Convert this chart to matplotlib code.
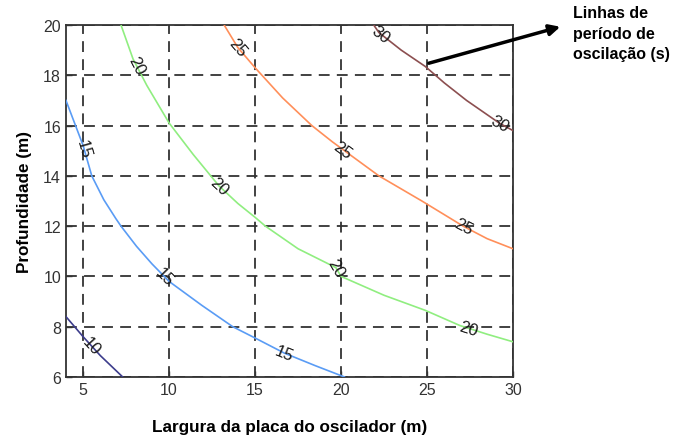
import numpy as np
import matplotlib.pyplot as plt

plt.rcParams['font.family'] = ['Liberation Sans', 'DejaVu Sans']

# contour lines: width (m) -> depth (m)
t10_x = [4.0, 5.0, 6.0, 7.3]
t10_y = [8.4, 7.6, 6.85, 6.0]

t15_x = [4.0, 4.5, 5.0, 5.5, 6.2, 6.9, 7.2, 8.1, 9.0, 10.0, 11.9, 13.7, 15.0, 16.7, 18.5, 20.2]
t15_y = [17.0, 16.1, 15.2, 14.0, 13.05, 12.3, 12.0, 11.2, 10.5, 9.8, 8.85, 8.0, 7.55, 6.95, 6.45, 6.0]

t20_x = [7.2, 7.9, 8.7, 10.0, 11.4, 12.9, 14.0, 15.0, 15.6, 17.5, 19.7, 20.0, 22.5, 24.9, 26.9, 28.5, 30.0]
t20_y = [20.0, 18.65, 17.6, 16.1, 14.85, 13.6, 12.9, 12.35, 12.0, 11.1, 10.35, 10.0, 9.25, 8.65, 8.05, 7.7, 7.4]

t25_x = [13.2, 14.0, 15.0, 16.6, 18.3, 19.5, 20.1, 22.2, 24.7, 27.1, 28.5, 30.0]
t25_y = [20.0, 19.1, 18.3, 17.1, 16.0, 15.35, 15.05, 14.0, 13.0, 12.0, 11.5, 11.1]

t30_x = [21.9, 22.2, 23.5, 24.9, 26.0, 27.3, 29.2, 30.0]
t30_y = [20.0, 19.7, 19.0, 18.35, 17.7, 17.0, 16.1, 15.8]

periods = [10, 15, 20, 25, 30]
line_x = [t10_x, t15_x, t20_x, t25_x, t30_x]
line_y = [t10_y, t15_y, t20_y, t25_y, t30_y]
label_at = [[5.5], [5.05, 9.7, 16.7], [8.1, 12.9, 19.7, 27.4], [14.0, 20.1, 27.1], [22.3, 29.2]]
colors = ['#3d3d8c', '#5a9cf5', '#90ee80', '#ff8f5a', '#8c4f50']

fig = plt.figure(figsize=(6.78, 4.39), dpi=100)
ax = fig.add_axes([0.0973, 0.139, 0.6593, 0.8018])
ax.set_xlim(4, 30)
ax.set_ylim(6, 20)
ax.set_xticks([5, 10, 15, 20, 25, 30])
ax.set_yticks(np.arange(6, 21, 2))
ax.grid(True, color='#333333', linestyle=(0, (6, 4)), linewidth=1.3)
ax.tick_params(direction='in', length=4, width=1, colors='#333333', labelsize=11.5)
for s in ax.spines.values():
    s.set_linewidth(1.3)
    s.set_color('#333333')

for xs, ys, c, lx, p in zip(line_x, line_y, colors, label_at, periods):
    ax.plot(xs, ys, color=c, lw=1.2, zorder=3)
    for x0 in lx:
        y0 = np.interp(x0, xs, ys)
        y1 = np.interp(x0 + 0.3, xs, ys)
        p0 = ax.transData.transform((x0, y0))
        p1 = ax.transData.transform((x0 + 0.3, y1))
        ang = np.degrees(np.arctan2(p1[1] - p0[1], p1[0] - p0[0]))
        ax.text(x0, y0, str(p), rotation=ang, rotation_mode='anchor',
                ha='center', va='center', fontsize=12, color='#1a1a1a', zorder=4)

ax.set_xlabel('Largura da placa do oscilador (m)', fontsize=12.3, fontweight='bold', labelpad=16)
ax.set_ylabel('Profundidade (m)', fontsize=12.3, fontweight='bold', labelpad=8)

ax.annotate('', xy=(563 / 678, 1 - 27 / 439), xycoords='figure fraction',
            xytext=(24.95, 18.45), textcoords='data', annotation_clip=False,
            arrowprops=dict(arrowstyle='-|>', color='black', lw=2.5, mutation_scale=16))
fig.text(0.845, 0.986, 'Linhas de\nperíodo de\noscilação (s)', ha='left', va='top',
         fontsize=11.5, fontweight='bold', linespacing=1.45)

fig.savefig('out.png')
